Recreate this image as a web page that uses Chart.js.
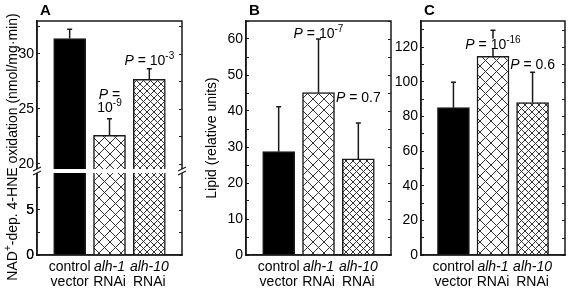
<!DOCTYPE html>
<html>
<head>
<meta charset="utf-8">
<script src="https://cdn.jsdelivr.net/npm/chart.js@4.4.1/dist/chart.umd.min.js"></script>
<style>
  html, body { margin: 0; padding: 0; background: #fff; }
  #wrap { position: relative; width: 569px; height: 289px; }
  canvas { position: absolute; top: 0; }
</style>
</head>
<body>
<div id="wrap">
  <canvas id="chartA" width="192" height="289" style="left:0px"></canvas>
  <canvas id="chartB" width="200" height="289" style="left:192px"></canvas>
  <canvas id="chartC" width="177" height="289" style="left:392px"></canvas>
</div>
<script>
// categories (two lines each, *...* = italic)
const categories = [['control', 'vector'], ['*alh-1*', 'RNAi'], ['*alh-10*', 'RNAi']];

// A: NAD+-dependent 4-HNE oxidation (broken axis)
const oxidation = [31.4, 22.6, 27.7];
const oxidationErr = [0.85, 1.5, 0.95];
const oxidationP = [[], ['*P* =', '10^{-9}'], ['*P* = 10^{-3}']];
const oxidationTicksTop = [20, 25, 30];
const oxidationTicksBottom = [0, 5];

// B: lipid
const lipidB = [28.7, 45.1, 26.7];
const lipidBErr = [12.5, 14.9, 10.0];
const lipidBP = [[], ['*P* = 10^{-7}'], ['*P* = 0.7']];
const lipidBTicks = [0, 10, 20, 30, 40, 50, 60];

// C
const lipidC = [85, 114.6, 88];
const lipidCErr = [14.6, 15.1, 17.4];
const lipidCP = [[], ['*P* = 10^{-16}'], ['*P* = 0.6']];
const lipidCTicks = [0, 20, 40, 60, 80, 100, 120];

const FONT = "'Liberation Sans', Arial, Helvetica, sans-serif";
const INK = '#1a1a1a';

function hatch(ctx, size) {
  const c = document.createElement('canvas');
  c.width = c.height = size;
  const g = c.getContext('2d');
  g.fillStyle = '#fff';
  g.fillRect(0, 0, size, size);
  g.strokeStyle = '#333';
  g.lineWidth = 1;
  g.beginPath();
  g.moveTo(-1, -1); g.lineTo(size + 1, size + 1);
  g.moveTo(size + 1, -1); g.lineTo(-1, size + 1);
  g.stroke();
  return ctx.createPattern(c, 'repeat');
}

function parseRich(str) {
  const out = [];
  const re = /\^\{([^}]*)\}|\*([^*]*)\*|([^*^]+)/g;
  let m;
  while ((m = re.exec(str))) {
    if (m[1] !== undefined) out.push({ t: m[1], sup: true });
    else if (m[2] !== undefined) out.push({ t: m[2], it: true });
    else out.push({ t: m[3] });
  }
  return out;
}
function richFont(s, size) {
  return (s.it ? 'italic ' : '') + (s.sup ? Math.round(size * 0.72) : size) + 'px ' + FONT;
}
function drawRich(ctx, str, cx, baseline, size, bg) {
  const segs = parseRich(str);
  let w = 0;
  segs.forEach(s => { ctx.font = richFont(s, size); s.w = ctx.measureText(s.t).width; w += s.w; });
  let x = cx - w / 2;
  if (bg) { ctx.fillStyle = '#fff'; ctx.fillRect(x - 1, baseline - size * 0.72, w + 2, size * 0.72); }
  ctx.fillStyle = '#000';
  ctx.textAlign = 'left';
  ctx.textBaseline = 'alphabetic';
  segs.forEach(s => {
    ctx.font = richFont(s, size);
    ctx.fillText(s.t, x, baseline - (s.sup ? size * 0.42 : 0));
    x += s.w;
  });
}

const panelPlugin = {
  id: 'panel',
  beforeDatasetDraw(chart, args) {
    const a = chart.chartArea, ys = args.meta.yScale, ctx = chart.ctx;
    ctx.save();
    ctx.beginPath();
    ctx.rect(a.left, ys.top, a.right - a.left, ys.bottom - ys.top);
    ctx.clip();
  },
  afterDatasetDraw(chart) { chart.ctx.restore(); },
  afterDraw(chart, args, o) {
    const ctx = chart.ctx, a = chart.chartArea;
    ctx.save();
    // frame
    ctx.strokeStyle = INK;
    ctx.lineWidth = 1.5;
    ctx.strokeRect(a.left, a.top, a.right - a.left, a.bottom - a.top);
    // mirrored ticks on the right side
    ctx.lineWidth = 1;
    ctx.beginPath();
    Object.values(chart.scales).filter(s => s.axis === 'y').forEach(s => {
      s.ticks.forEach(t => {
        const y = Math.round(s.getPixelForValue(t.value)) + 0.5;
        ctx.moveTo(a.right, y); ctx.lineTo(a.right - 3, y);
      });
    });
    ctx.stroke();
    // axis break
    if (o.breakAxis) {
      const y0 = chart.scales[o.breakAxis].bottom;
      ctx.fillStyle = '#fff';
      ctx.fillRect(a.left - 6, y0 - 2, a.right - a.left + 12, 4);
      ctx.lineWidth = 1.2;
      ctx.beginPath();
      [a.left, a.right].forEach(x => {
        [-2, 2].forEach(dy => { ctx.moveTo(x - 4, y0 + dy + 2); ctx.lineTo(x + 4, y0 + dy - 2); });
      });
      ctx.stroke();
      // make sure the lower segment's labels are shown
      const low = chart.scales[o.lowAxis];
      ctx.fillStyle = '#000';
      ctx.font = '14px ' + FONT;
      ctx.textAlign = 'right';
      ctx.textBaseline = 'middle';
      o.lowLabels.forEach(v => ctx.fillText(String(v), low.right - 3, low.getPixelForValue(v)));
    }
    // error bars (upper only)
    const ys = chart.scales[o.axis];
    const meta = chart.getDatasetMeta(0);
    ctx.lineWidth = 1.5;
    ctx.strokeStyle = INK;
    meta.data.forEach((bar, i) => {
      const top = ys.getPixelForValue(o.values[i] + o.err[i]);
      const base = ys.getPixelForValue(o.values[i]);
      ctx.beginPath();
      ctx.moveTo(bar.x, base); ctx.lineTo(bar.x, top);
      ctx.moveTo(bar.x - 2.5, top); ctx.lineTo(bar.x + 2.5, top);
      ctx.stroke();
    });
    // P values
    meta.data.forEach((bar, i) => {
      const lines = o.p[i];
      if (!lines.length) return;
      const b = ys.getPixelForValue(o.pBase[i]);
      lines.forEach((ln, k) => drawRich(ctx, ln, bar.x, b - (lines.length - 1 - k) * 13, 14, true));
    });
    // category labels
    const xs = chart.scales.x;
    categories.forEach((c, i) => {
      const x = xs.getPixelForValue(i);
      drawRich(ctx, c[0], x, 271, 14);
      drawRich(ctx, c[1], x, 286, 14);
    });
    // panel letter
    ctx.fillStyle = '#000';
    ctx.font = 'bold 15px ' + FONT;
    ctx.textAlign = 'left';
    ctx.textBaseline = 'alphabetic';
    ctx.fillText(o.letter, a.left + 3, 15);
    // rotated y title
    if (o.yTitle) {
      ctx.translate(o.yTitle.x, o.yTitle.y);
      ctx.rotate(-Math.PI / 2);
      drawRich(ctx, o.yTitle.text, 0, 5, 14);
    }
    ctx.restore();
  }
};

function yScale(min, max, step, labelled, width, extra) {
  return Object.assign({
    type: 'linear', min, max, position: 'left',
    afterFit: s => { s.width = width; },
    ticks: {
      stepSize: step, includeBounds: false, autoSkip: false, padding: 6, z: 1,
      color: '#000', font: { family: FONT, size: 14 },
      callback: v => labelled.includes(v) ? String(v) : ''
    },
    grid: { drawOnChartArea: false, tickLength: -3, color: INK, lineWidth: 1 },
    border: { color: INK, width: 1.5 }
  }, extra || {});
}

function xScale() {
  return {
    type: 'linear', min: -0.82, max: 2.82, offset: false, bounds: 'data',
    afterBuildTicks: s => { s.ticks = categories.map((c, i) => ({ value: i })); },
    afterFit: s => { s.height = 34; },
    ticks: { display: false },
    grid: { display: false, offset: false },
    border: { color: INK, width: 1.5 }
  };
}

function barSet(values, fills, yAxisID) {
  return {
    data: values.map((v, i) => ({ x: i, y: v })),
    yAxisID,
    grouped: false,
    backgroundColor: fills,
    borderColor: INK,
    borderWidth: 1.5,
    barThickness: 32
  };
}

function baseOptions(padRight, panel, scales) {
  return {
    responsive: false,
    animation: false,
    devicePixelRatio: 1,
    layout: { padding: { top: 21, right: padRight, left: 0, bottom: 0 } },
    plugins: { legend: { display: false }, tooltip: { enabled: false }, panel },
    scales
  };
}

// Panel A
const ctxA = document.getElementById('chartA').getContext('2d');
const fillsA = ['#000', hatch(ctxA, 11), hatch(ctxA, 7)];
new Chart(ctxA, {
  type: 'bar',
  data: { datasets: [barSet(oxidation, fillsA, 'yTop'), barSet(oxidation, fillsA, 'y')] },
  options: baseOptions(10, {
    letter: 'A', axis: 'yTop', values: oxidation, err: oxidationErr,
    p: oxidationP, pBase: [null, 24.7, 29.0], breakAxis: 'yTop',
    lowAxis: 'y', lowLabels: oxidationTicksBottom,
    yTitle: { text: 'NAD^{+}-dep. 4-HNE oxidation (nmol/mg·min)', x: 12, y: 147 }
  }, {
    x: xScale(),
    y: yScale(0, 9.33, 2.5, oxidationTicksBottom, 37, { stack: 'brk', stackWeight: 84 }),
    yTop: yScale(19.36, 33, 2.5, oxidationTicksTop, 37, { stack: 'brk', stackWeight: 150 })
  }),
  plugins: [panelPlugin]
});

// Panel B
const ctxB = document.getElementById('chartB').getContext('2d');
const fillsB = ['#000', hatch(ctxB, 11), hatch(ctxB, 7)];
new Chart(ctxB, {
  type: 'bar',
  data: { datasets: [barSet(lipidB, fillsB, 'y')] },
  options: baseOptions(1, {
    letter: 'B', axis: 'y', values: lipidB, err: lipidBErr,
    p: lipidBP, pBase: [null, 60.3, 42.5]
  }, {
    x: xScale(),
    y: yScale(0, 65, 5, lipidBTicks, 54, {
      title: { display: true, text: 'Lipid (relative units)', color: '#000',
               font: { family: FONT, size: 14 }, padding: { top: 12, bottom: 0 } }
    })
  }),
  plugins: [panelPlugin]
});

// Panel C
const ctxC = document.getElementById('chartC').getContext('2d');
const fillsC = ['#000', hatch(ctxC, 11), hatch(ctxC, 7)];
new Chart(ctxC, {
  type: 'bar',
  data: { datasets: [barSet(lipidC, fillsC, 'y')] },
  options: baseOptions(4, {
    letter: 'C', axis: 'y', values: lipidC, err: lipidCErr,
    p: lipidCP, pBase: [null, 119, 107.5]
  }, {
    x: xScale(),
    y: yScale(0, 135, 10, lipidCTicks, 29)
  }),
  plugins: [panelPlugin]
});
</script>
</body>
</html>
